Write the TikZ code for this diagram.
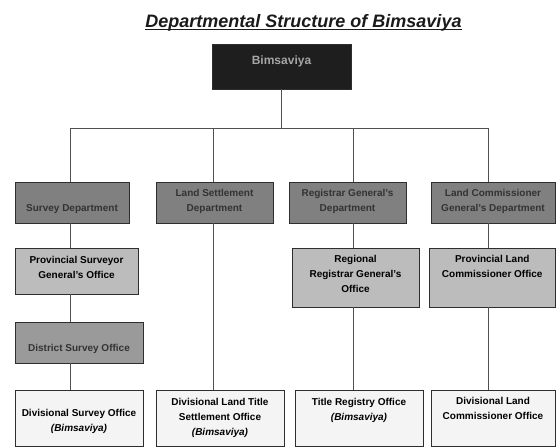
\documentclass[tikz,border=0pt]{standalone}
\usepackage{fontspec}
\setmainfont{Liberation Sans}
\definecolor{boxline}{HTML}{2E2E2E}
\definecolor{connline}{HTML}{505050}
\definecolor{deptfill}{HTML}{808080}
\definecolor{depttext}{HTML}{333333}
\definecolor{officefill}{HTML}{BCBCBC}
\definecolor{distfill}{HTML}{9A9A9A}
\definecolor{localfill}{HTML}{F4F4F4}
\definecolor{topfill}{HTML}{1E1E1E}
\definecolor{toptext}{HTML}{A6A6A6}
\definecolor{titlecol}{HTML}{1A1A1A}
% #1 width, #2 height, #3 first baseline from top, #4 text
\newcommand\bt[4]{\parbox[c][#2pt][t]{#1pt}{\centering\rule{0pt}{#3pt}#4\par}}
\tikzset{
  box/.style={draw=boxline, line width=0.9pt, inner sep=0pt, outer sep=0pt,
    anchor=north west, font=\fontsize{10}{15}\selectfont\bfseries},
  dept/.style={box, fill=deptfill, text=depttext},
  office/.style={box, fill=officefill, text=black},
  district/.style={box, fill=distfill, text=depttext},
  local/.style={box, fill=localfill, text=black},
  conn/.style={draw=connline, line width=0.9pt},
}
\begin{document}
\begin{tikzpicture}[x=1pt, y=-1pt]
\useasboundingbox (0,0) rectangle (556,447);
% title
\node[inner sep=0pt, anchor=base, text=titlecol,
  font=\fontsize{18}{20}\selectfont\bfseries\itshape] (title) at (303.5,27)
  {Departmental Structure of Bimsaviya};
\draw[line width=1.6pt, titlecol] ([yshift=-2.4pt]title.base west) -- ([yshift=-2.4pt]title.base east);
% top
\node[box, fill=topfill, text=toptext, font=\fontsize{12}{14}\selectfont\bfseries] (bims) at (212,44)
  {\bt{139}{45}{20.5}{Bimsaviya}};
% row 1
\node[dept] (survey) at (15,182) {\bt{114}{41}{29.6}{Survey Department}};
\node[dept] (settle) at (156,182) {\bt{117}{41}{14.6}{Land Settlement\\Department}};
\node[dept] (regis) at (289,182) {\bt{117}{41}{14.6}{Registrar General's\\Department}};
\node[dept] (lcomm) at (431,182) {\bt{124}{41}{14.6}{Land Commissioner\\General's Department}};
% row 2
\node[office] (provsurv) at (15,248) {\bt{123}{46}{15.6}{Provincial Surveyor\\General's Office}};
\node[office] (regreg) at (292,248) {\bt{127}{59}{14.6}{Regional\\Registrar General's\\Office}};
\node[office] (provland) at (429,248) {\bt{126.5}{59}{14.6}{Provincial Land\\Commissioner Office}};
% row 3
\node[district] (dist) at (15,322) {\bt{128}{41}{29.6}{District Survey Office}};
% row 4
\node[local] (divsurv) at (15,390) {\bt{128}{56}{26.6}{Divisional Survey Office\\\textit{(Bimsaviya)}}};
\node[local] (divtitle) at (156,390) {\bt{128}{56}{15.6}{Divisional Land Title\\Settlement Office\\\textit{(Bimsaviya)}}};
\node[local] (titlereg) at (295,390) {\bt{128}{56}{15.6}{Title Registry Office\\\textit{(Bimsaviya)}}};
\node[local] (divland) at (431,390) {\bt{124}{56}{14.6}{Divisional Land\\Commissioner Office}};
% bus
\coordinate (c1) at (70,128);
\coordinate (c2) at (213,128);
\coordinate (c3) at (353,128);
\coordinate (c4) at (488,128);
\draw[conn] (bims.south) -- (bims.south |- c1);
\draw[conn] (c1 |- survey.north) -- (c1) -- (c4) -- (c4 |- lcomm.north);
\draw[conn] (c2) -- (c2 |- settle.north);
\draw[conn] (c3) -- (c3 |- regis.north);
% columns
\draw[conn] (c1 |- survey.south) -- (c1 |- provsurv.north);
\draw[conn] (c1 |- provsurv.south) -- (c1 |- dist.north);
\draw[conn] (c1 |- dist.south) -- (c1 |- divsurv.north);
\draw[conn] (c2 |- settle.south) -- (c2 |- divtitle.north);
\draw[conn] (c3 |- regis.south) -- (c3 |- regreg.north);
\draw[conn] (c3 |- regreg.south) -- (c3 |- titlereg.north);
\draw[conn] (c4 |- lcomm.south) -- (c4 |- provland.north);
\draw[conn] (c4 |- provland.south) -- (c4 |- divland.north);
\end{tikzpicture}
\end{document}
